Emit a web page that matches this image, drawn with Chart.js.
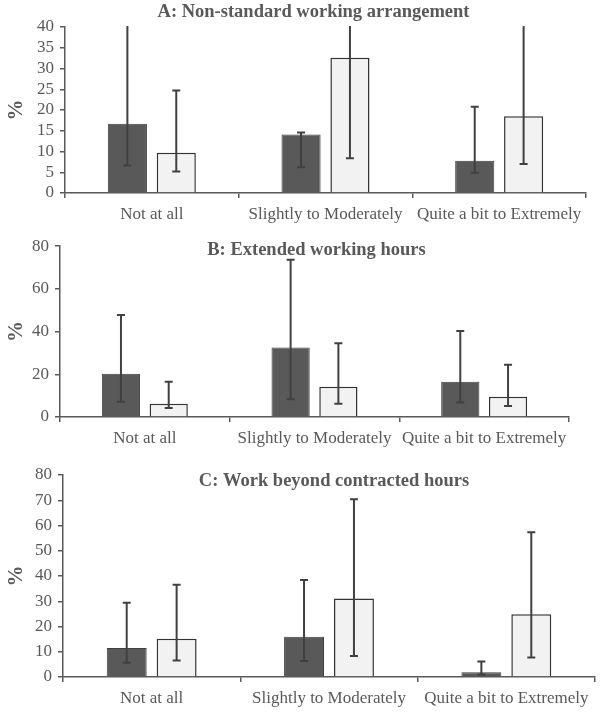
<!DOCTYPE html>
<html lang="en">
<head>
    <meta charset="UTF-8">
    <title>Working arrangements</title>
    <script src="https://cdn.jsdelivr.net/npm/chart.js"></script>
    <style>
        body { margin: 0; background: #fff; }
        .panel { position: absolute; left: 0; width: 600px; }
        .panel canvas { display: block; }
    </style>
</head>
<body>
    <div class="panel" id="pA" style="top:0px;height:230px"><canvas id="chartA"></canvas></div>
    <div class="panel" id="pB" style="top:230px;height:225px"><canvas id="chartB"></canvas></div>
    <div class="panel" id="pC" style="top:455px;height:259px"><canvas id="chartC"></canvas></div>

    <script>
        // Data
        const categories = ['Not at all', 'Slightly to Moderately', 'Quite a bit to Extremely'];

        const titleA = 'A: Non-standard working arrangement';
        const darkA = [16.7, 14.1, 7.8];
        const darkLowA = [6.6, 6.2, 4.9];
        const darkHighA = [45, 14.6, 20.8];
        const lightA = [9.7, 32.6, 18.5];
        const lightLowA = [5.2, 8.4, 7.0];
        const lightHighA = [24.7, 45, 45];
        const ticksA = [0, 5, 10, 15, 20, 25, 30, 35, 40];

        const titleB = 'B: Extended working hours';
        const darkB = [20.2, 32.5, 16.5];
        const darkLowB = [7.1, 8.3, 6.8];
        const darkHighB = [47.8, 73.6, 40.3];
        const lightB = [6.2, 14.2, 9.5];
        const lightLowB = [4.2, 6.2, 5.2];
        const lightHighB = [16.5, 34.5, 24.5];
        const ticksB = [0, 20, 40, 60, 80];

        const titleC = 'C: Work beyond contracted hours';
        const darkC = [11.5, 15.9, 1.9];
        const darkLowC = [5.6, 6.3, 1.0];
        const darkHighC = [29.4, 38.4, 6.1];
        const lightC = [15.1, 31.1, 24.9];
        const lightLowC = [6.5, 8.3, 7.7];
        const lightHighC = [36.5, 70.4, 57.3];
        const ticksC = [0, 10, 20, 30, 40, 50, 60, 70, 80];

        const GREY = '#595959';
        const FONT = "'Liberation Serif', 'Times New Roman', serif";

        // error bars drawn from the low/high arrays through the y scale
        const errorBars = {
            id: 'errorBars',
            afterDatasetsDraw(chart) {
                const ctx = chart.ctx;
                const y = chart.scales.y;
                const area = chart.chartArea;
                ctx.save();
                ctx.beginPath();
                ctx.rect(area.left, area.top - 1, area.right - area.left, area.bottom - area.top + 1);
                ctx.clip();
                ctx.strokeStyle = '#404040';
                ctx.lineWidth = 2;
                chart.data.datasets.forEach((ds, i) => {
                    const meta = chart.getDatasetMeta(i);
                    meta.data.forEach((bar, j) => {
                        const x = bar.x;
                        const yl = y.getPixelForValue(ds.errLow[j]);
                        const yh = y.getPixelForValue(ds.errHigh[j]);
                        ctx.beginPath();
                        ctx.moveTo(x, yl);
                        ctx.lineTo(x, yh);
                        ctx.moveTo(x - 4, yl);
                        ctx.lineTo(x + 4, yl);
                        ctx.moveTo(x - 4, yh);
                        ctx.lineTo(x + 4, yh);
                        ctx.stroke();
                    });
                });
                ctx.restore();
            }
        };

        // panel title sits over the plot area
        const panelTitle = {
            id: 'panelTitle',
            afterDraw(chart, args, opts) {
                const ctx = chart.ctx;
                const area = chart.chartArea;
                ctx.save();
                ctx.font = 'bold 18.5px ' + FONT;
                ctx.fillStyle = GREY;
                ctx.textAlign = 'center';
                ctx.textBaseline = 'middle';
                ctx.fillText(opts.text, (area.left + area.right) / 2 + opts.dx, area.top + opts.dy);
                ctx.restore();
            }
        };

        function makeChart(id, title, dark, darkLow, darkHigh, light, lightLow, lightHigh, ticks, lay) {
            const maxV = ticks[ticks.length - 1];
            const step = ticks[1] - ticks[0];
            return new Chart(document.getElementById(id), {
                type: 'bar',
                data: {
                    labels: categories,
                    datasets: [{
                        data: dark,
                        errLow: darkLow,
                        errHigh: darkHigh,
                        backgroundColor: GREY,
                        borderColor: '#404040',
                        borderWidth: 1,
                        categoryPercentage: 0.563,
                        barPercentage: 0.8
                    }, {
                        data: light,
                        errLow: lightLow,
                        errHigh: lightHigh,
                        backgroundColor: '#f2f2f2',
                        borderColor: '#333333',
                        borderWidth: 1.5,
                        categoryPercentage: 0.563,
                        barPercentage: 0.8
                    }]
                },
                options: {
                    responsive: true,
                    maintainAspectRatio: false,
                    animation: false,
                    layout: { padding: { top: lay.top, right: lay.right, left: 0, bottom: 0 } },
                    plugins: {
                        legend: { display: false },
                        tooltip: { enabled: false },
                        panelTitle: { text: title, dx: lay.tdx, dy: lay.tdy }
                    },
                    scales: {
                        x: {
                            offset: true,
                            border: { color: GREY, width: 1.5 },
                            grid: { offset: true, drawOnChartArea: false, tickLength: 5, color: GREY, lineWidth: 1.5 },
                            ticks: { color: GREY, font: { family: FONT, size: 17 }, padding: 6, maxRotation: 0, autoSkip: false },
                            afterFit(s) { s.height = lay.xh; }
                        },
                        y: {
                            min: 0,
                            max: maxV,
                            border: { color: GREY, width: 1.5 },
                            grid: { drawOnChartArea: false, tickLength: 5, color: GREY, lineWidth: 1.5 },
                            ticks: { stepSize: step, autoSkip: false, color: GREY, font: { family: FONT, size: 17 }, padding: 6 },
                            title: { display: true, text: '%', color: GREY, font: { family: FONT, size: 21, weight: 'bold' }, padding: { top: 4, bottom: 0 } },
                            afterFit(s) { s.width = lay.yw; }
                        }
                    }
                },
                plugins: [errorBars, panelTitle]
            });
        }

        makeChart('chartA', titleA, darkA, darkLowA, darkHighA, lightA, lightLowA, lightHighA, ticksA,
            { top: 27, right: 14, xh: 37, yw: 65, tdx: -12, tdy: -15 });
        makeChart('chartB', titleB, darkB, darkLowB, darkHighB, lightB, lightLowB, lightHighB, ticksB,
            { top: 15, right: 31, xh: 38, yw: 60, tdx: 2, tdy: 4 });
        makeChart('chartC', titleC, darkC, darkLowC, darkHighC, lightC, lightLowC, lightHighC, ticksC,
            { top: 20, right: 5, xh: 37, yw: 63, tdx: 5, tdy: 6 });
    </script>
</body>
</html>
